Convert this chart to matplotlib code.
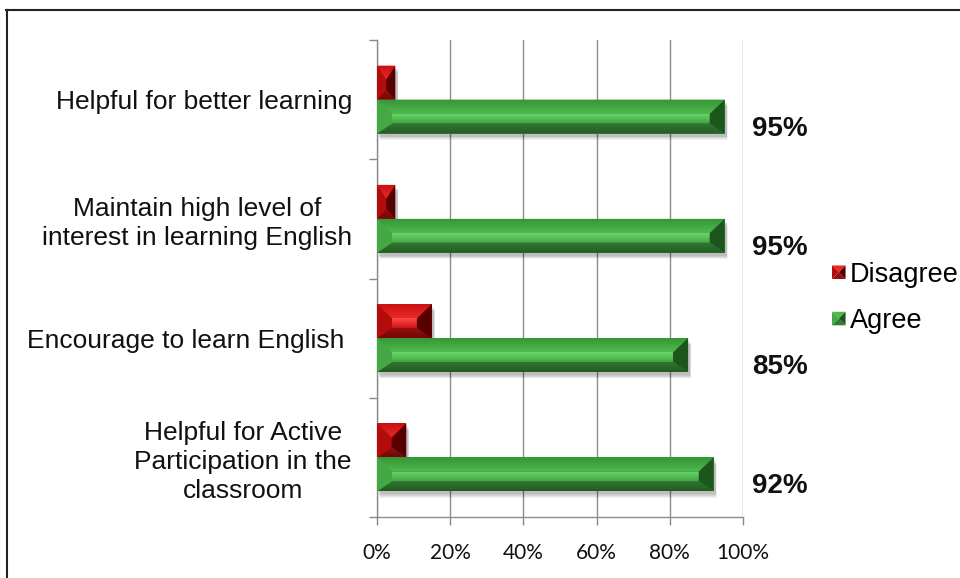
import numpy as np
import matplotlib
matplotlib.use("Agg")
import matplotlib.pyplot as plt
from matplotlib.patches import Polygon, Rectangle, Patch
from matplotlib.colors import LinearSegmentedColormap
from matplotlib.legend_handler import HandlerBase
from matplotlib.lines import Line2D

# ---- data ----
categories = ["Helpful for better learning",
              "Maintain high level of\ninterest in learning English",
              "Encourage to learn English ",
              "Helpful for Active\nParticipation in the\nclassroom"]
agree = [95, 95, 85, 92]
disagree = [5, 5, 15, 8]
value_labels = ["95%", "95%", "85%", "92%"]
xticks = [0, 20, 40, 60, 80, 100]
xtick_labels = ["0%", "20%", "40%", "60%", "80%", "100%"]
series_names = ["Disagree", "Agree"]

W, H = 960, 578
fig = plt.figure(figsize=(W / 100, H / 100), dpi=100)
ax_l, ax_t, ax_r, ax_b = 377, 40, 743, 517
ax = fig.add_axes([ax_l / W, 1 - ax_b / H, (ax_r - ax_l) / W, (ax_b - ax_t) / H])

px_x = (ax_r - ax_l) / 100.0        # pixels per x unit
px_y = (ax_b - ax_t) / 4.0          # pixels per y unit

GREEN = dict(base="#3c9c3c", top=("#349434", "#4fba4f"), inner=("#6ad66a", "#46a646"),
             bot=("#317a31", "#245a24"), left="#45a845", right="#1d561d")
RED = dict(base="#c01010", top=("#c81010", "#ea2828"), inner=("#ff4a4a", "#d01616"),
           bot=("#961010", "#740707"), left="#b40c0c", right="#580000")


def grad_poly(verts, c_top, c_bot, z):
    poly = Polygon(verts, closed=True, facecolor="none", edgecolor="none")
    ax.add_patch(poly)
    xs = [v[0] for v in verts]
    ys = [v[1] for v in verts]
    cmap = LinearSegmentedColormap.from_list("g", [c_top, c_bot])
    grad = np.linspace(0, 1, 64).reshape(-1, 1)
    im = ax.imshow(grad, cmap=cmap, extent=(min(xs), max(xs), max(ys), min(ys)),
                   origin="upper", aspect="auto", zorder=z, interpolation="bilinear")
    im.set_clip_path(poly)


def bevel_bar(patch, col):
    x0 = patch.get_x()
    w = patch.get_width()
    x1 = x0 + w
    yt = patch.get_y()
    h = patch.get_height()
    yb = yt + h
    # soft shadow
    for k in range(5):
        ox = (2 + k * 0.8) / px_x
        oy = (3 + k * 0.8) / px_y
        ax.add_patch(Rectangle((x0 + ox - k * 0.6 / px_x, yt + oy), w, h,
                               facecolor="#000000", alpha=0.055, edgecolor="none", zorder=2.5))
    dx = min(15 / px_x, w / 2)
    dt = 0.42 * h
    db = 0.30 * h
    xi0, xi1 = x0 + dx, x1 - dx
    yit, yib = yt + dt, yb - db
    grad_poly([(x0, yt), (x1, yt), (xi1, yit), (xi0, yit)], col["top"][0], col["top"][1], 4)
    grad_poly([(xi0, yit), (xi1, yit), (xi1, yib), (xi0, yib)], col["inner"][0], col["inner"][1], 4)
    grad_poly([(x0, yb), (x1, yb), (xi1, yib), (xi0, yib)], col["bot"][0], col["bot"][1], 4)
    ax.add_patch(Polygon([(x0, yt), (xi0, yit), (xi0, yib), (x0, yb)], closed=True,
                         facecolor=col["left"], edgecolor="none", zorder=4.2))
    ax.add_patch(Polygon([(x1, yt), (xi1, yit), (xi1, yib), (x1, yb)], closed=True,
                         facecolor=col["right"], edgecolor="none", zorder=4.2))


y = np.arange(len(categories))
bh = 0.285
bars_d = ax.barh(y - bh / 2, disagree, height=bh, color=RED["base"], zorder=3)
bars_a = ax.barh(y + bh / 2, agree, height=bh, color=GREEN["base"], zorder=3)
for p in bars_d:
    bevel_bar(p, RED)
for p in bars_a:
    bevel_bar(p, GREEN)

for yi, a, lab in zip(y, agree, value_labels):
    ax.text(102.5, yi + bh / 2 + 0.1, lab, ha="left", va="center",
            fontsize=20, fontweight="bold", family="Liberation Sans", color="#111111",
            clip_on=False)

ax.set_xlim(0, 100)
ax.set_ylim(3.5, -0.5)
ax.set_xticks(xticks)
ax.set_xticklabels(xtick_labels, family="Lato", fontsize=15, color="#111111")
ax.set_yticks(y)
ax.set_yticklabels(categories, family="Liberation Sans", fontsize=19, color="#111111",
                   multialignment="center", linespacing=1.26)
ax.set_yticks(np.arange(-0.5, 4, 1), minor=True)
ax.tick_params(axis="y", which="major", length=0, pad=18)
ax.tick_params(axis="y", which="minor", length=6, color="#888888", width=1)
ax.tick_params(axis="x", which="major", length=6, color="#888888", width=1, pad=13)
ax.grid(axis="x", color="#8c8c8c", linewidth=1, zorder=1)
ax.set_axisbelow(True)
for s in ["top", "right"]:
    ax.spines[s].set_visible(False)
for s in ["left", "bottom"]:
    ax.spines[s].set_color("#8c8c8c")
    ax.spines[s].set_linewidth(1)


class BevelHandler(HandlerBase):
    def __init__(self, col):
        super().__init__()
        self.col = col

    def create_artists(self, legend, orig_handle, xdescent, ydescent, width, height,
                       fontsize, trans):
        s = min(width, height)
        x0, y0 = -xdescent, -ydescent + (height - s) / 2
        x1, y1 = x0 + s, y0 + s
        cx, cy = (x0 + x1) / 2, (y0 + y1) / 2
        c = self.col
        arts = [
            Polygon([(x0, y1), (x1, y1), (cx, cy)], facecolor=c["top"][1], edgecolor="none"),
            Polygon([(x0, y0), (x1, y0), (cx, cy)], facecolor=c["bot"][0], edgecolor="none"),
            Polygon([(x0, y0), (x0, y1), (cx, cy)], facecolor=c["left"], edgecolor="none"),
            Polygon([(x1, y0), (x1, y1), (cx, cy)], facecolor=c["right"], edgecolor="none"),
        ]
        for a in arts:
            a.set_transform(trans)
        return arts


h_d = Patch(facecolor=RED["base"])
h_a = Patch(facecolor=GREEN["base"])
fig.legend([h_d, h_a], series_names, loc="center left",
           bbox_to_anchor=(832 / W, 1 - 298 / H), frameon=False,
           handler_map={h_d: BevelHandler(RED), h_a: BevelHandler(GREEN)},
           prop={"family": "Liberation Sans", "size": 19.5},
           handlelength=0.5, handleheight=0.5, handletextpad=0.15, labelspacing=0.75,
           borderpad=0, borderaxespad=0)

# figure frame lines
fig.add_artist(Line2D([7 / W, 7 / W], [0, 1 - 10 / H], color="#222222", lw=1.5,
                      transform=fig.transFigure))
fig.add_artist(Line2D([6 / W, 1], [1 - 10 / H, 1 - 10 / H], color="#222222", lw=1.5,
                      transform=fig.transFigure))

fig.savefig("out.png", dpi=100)
